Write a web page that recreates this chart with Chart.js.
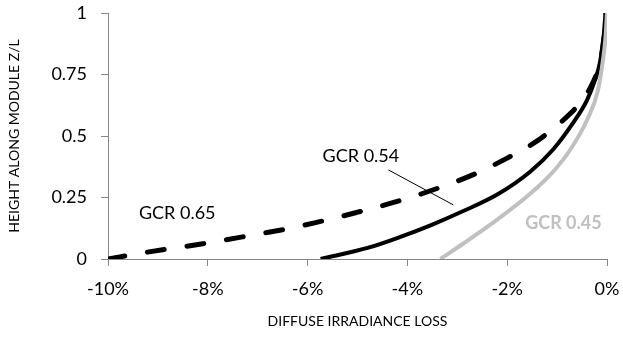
<!DOCTYPE html>
<html>
<head>
<meta charset="utf-8">
<script src="https://cdn.jsdelivr.net/npm/chart.js@4/dist/chart.umd.min.js"></script>
<style>
  html, body { margin: 0; padding: 0; background: #ffffff; }
  #wrap { width: 623px; height: 337px; }
</style>
</head>
<body>
<div id="wrap"><canvas id="c" width="623" height="337"></canvas></div>
<script>
// ---- Data (x = diffuse irradiance loss in %, y = height along module z/L) ----
const gcr065X = [-10, -9.3, -8.1, -7.3, -6.4, -5.84, -5.04, -4.24, -3.4, -2.68, -2.0, -1.4, -1.08, -0.74, -0.48, -0.3, -0.14, -0.06, -0.02];
const gcr065Y = [0, 0.025, 0.062, 0.09, 0.123, 0.148, 0.188, 0.232, 0.287, 0.343, 0.41, 0.48, 0.53, 0.59, 0.65, 0.71, 0.8, 0.9, 1.0];

const gcr054X = [-5.74, -4.8, -4.14, -3.5, -2.88, -2.2, -1.54, -1.08, -0.68, -0.4, -0.24, -0.14, -0.07, -0.03];
const gcr054Y = [0, 0.045, 0.09, 0.14, 0.195, 0.262, 0.355, 0.445, 0.553, 0.646, 0.728, 0.8, 0.9, 1.0];

const gcr045X = [-3.34, -2.9, -2.2, -1.54, -1.1, -0.74, -0.4, -0.18, -0.08, -0.03, 0];
const gcr045Y = [0, 0.06, 0.16, 0.265, 0.35, 0.443, 0.565, 0.687, 0.81, 0.9, 1.0];

const seriesNames = ['GCR 0.65', 'GCR 0.54', 'GCR 0.45'];
const xTicks = [-10, -8, -6, -4, -2, 0];
const yTicks = [0, 0.25, 0.5, 0.75, 1];
const xTitle = 'DIFFUSE IRRADIANCE LOSS';
const yTitle = 'HEIGHT ALONG MODULE Z/L';

function pts(xs, ys) { return xs.map((x, i) => ({ x: x, y: ys[i] })); }

const FONT = 'Lato';
const AXIS_COLOR = '#878787';

// in-chart labels (data coordinates)
const labelDefs = [
  { text: 'GCR 0.65', x: -9.38, y: 0.187, color: '#000000', weight: 'normal' },
  { text: 'GCR 0.54', x: -5.7, y: 0.419, color: '#000000', weight: 'normal' },
  { text: 'GCR 0.45', x: -1.64, y: 0.146, color: '#c0c0c0', weight: 'bold' }
];
const pointerLine = { x1: -4.38, y1: 0.362, x2: -3.08, y2: 0.22 };

const labelPlugin = {
  id: 'labels',
  afterDatasetsDraw(chart) {
    const ctx = chart.ctx;
    const xs = chart.scales.x, ys = chart.scales.y;
    ctx.save();
    ctx.strokeStyle = '#000000';
    ctx.lineWidth = 1;
    ctx.beginPath();
    ctx.moveTo(xs.getPixelForValue(pointerLine.x1), ys.getPixelForValue(pointerLine.y1));
    ctx.lineTo(xs.getPixelForValue(pointerLine.x2), ys.getPixelForValue(pointerLine.y2));
    ctx.stroke();
    ctx.textAlign = 'left';
    ctx.textBaseline = 'middle';
    labelDefs.forEach(l => {
      ctx.font = l.weight + ' 18px ' + FONT;
      ctx.fillStyle = l.color;
      ctx.fillText(l.text, xs.getPixelForValue(l.x), ys.getPixelForValue(l.y));
    });
    ctx.restore();
  }
};

function zeroPad(scale) {
  scale.paddingTop = 0;
  scale.paddingBottom = 0;
  scale.paddingLeft = 0;
  scale.paddingRight = 0;
}

new Chart(document.getElementById('c'), {
  type: 'line',
  data: {
    datasets: [
      {
        label: seriesNames[2],
        data: pts(gcr045X, gcr045Y),
        borderColor: '#c0c0c0',
        borderWidth: 4,
        pointRadius: 0,
        cubicInterpolationMode: 'monotone',
        fill: false
      },
      {
        label: seriesNames[1],
        data: pts(gcr054X, gcr054Y),
        borderColor: '#000000',
        borderWidth: 4,
        pointRadius: 0,
        cubicInterpolationMode: 'monotone',
        fill: false
      },
      {
        label: seriesNames[0],
        data: pts(gcr065X, gcr065Y),
        borderColor: '#000000',
        borderWidth: 5,
        borderDash: [17, 23],
        borderCapStyle: 'round',
        pointRadius: 0,
        cubicInterpolationMode: 'monotone',
        fill: false
      }
    ]
  },
  options: {
    responsive: false,
    animation: false,
    devicePixelRatio: 1,
    layout: { padding: { top: 13, right: 16, left: 0, bottom: 0 } },
    plugins: {
      legend: { display: false },
      tooltip: { enabled: false }
    },
    scales: {
      x: {
        type: 'linear',
        min: -10,
        max: 0,
        afterFit(scale) { scale.height = 78; zeroPad(scale); },
        afterBuildTicks(scale) { scale.ticks = xTicks.map(v => ({ value: v })); },
        border: { display: true, color: AXIS_COLOR, width: 1 },
        grid: { drawOnChartArea: false, drawTicks: true, tickLength: 7, color: AXIS_COLOR },
        ticks: {
          color: '#000000',
          font: { family: FONT, size: 18 },
          padding: 12,
          maxRotation: 0,
          callback: v => v + '%'
        },
        title: {
          display: true,
          text: xTitle,
          color: '#000000',
          font: { family: FONT, size: 14 },
          padding: { top: 0, bottom: 7 }
        }
      },
      y: {
        type: 'linear',
        min: 0,
        max: 1,
        afterFit(scale) { scale.width = 108; zeroPad(scale); },
        afterBuildTicks(scale) { scale.ticks = yTicks.map(v => ({ value: v })); },
        border: { display: true, color: AXIS_COLOR, width: 1 },
        grid: { drawOnChartArea: false, drawTicks: true, tickLength: 7, color: AXIS_COLOR },
        ticks: {
          color: '#000000',
          font: { family: FONT, size: 18 },
          padding: 14,
          callback: v => String(v)
        },
        title: {
          display: true,
          text: yTitle,
          color: '#000000',
          font: { family: FONT, size: 14 },
          padding: { top: 6, bottom: 0 }
        }
      }
    }
  },
  plugins: [labelPlugin]
});
</script>
</body>
</html>
